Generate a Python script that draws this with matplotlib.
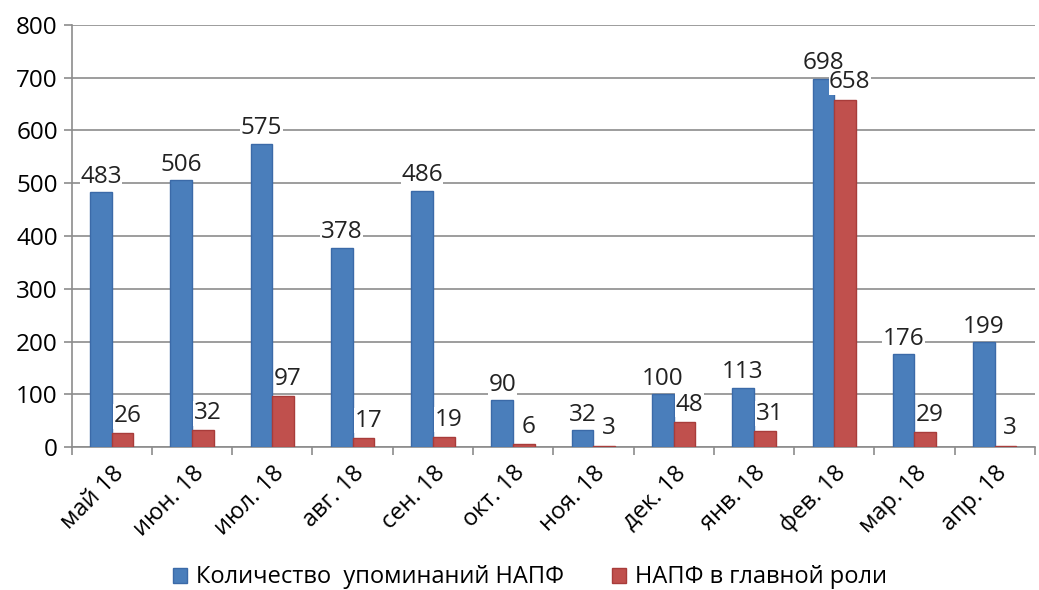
import matplotlib.pyplot as plt
import numpy as np

months = ["май 18", "июн. 18", "июл. 18", "авг. 18", "сен. 18", "окт. 18",
          "ноя. 18", "дек. 18", "янв. 18", "фев. 18", "мар. 18", "апр. 18"]
mentions = [483, 506, 575, 378, 486, 90, 32, 100, 113, 698, 176, 199]
main_role = [26, 32, 97, 17, 19, 6, 3, 48, 31, 658, 29, 3]

plt.rcParams['font.family'] = ['Open Sans', 'DejaVu Sans']

fig = plt.figure(figsize=(10.39, 5.9), dpi=100)
ax = fig.add_axes([0.069, 0.242, 0.927, 0.716])

x = np.arange(len(months))
w = 0.27
blue = "#4a7ebb"
red = "#c0504d"
b1 = ax.bar(x - w / 2, mentions, w, color=blue, edgecolor="#3b6aa8", linewidth=1,
            label="Количество  упоминаний НАПФ", zorder=3)
b2 = ax.bar(x + w / 2, main_role, w, color=red, edgecolor="#a83c3a", linewidth=1,
            label="НАПФ в главной роли", zorder=3)

for xi, v in zip(x, mentions):
    ax.text(xi - w / 2, v + 6, str(v), ha="center", va="bottom", fontsize=17.5,
            color="#222222", zorder=4,
            bbox=dict(facecolor="white", edgecolor="none", pad=0.3))
for xi, v in zip(x, main_role):
    ax.text(xi + w / 2 + 0.06, v + 10, str(v), ha="center", va="bottom", fontsize=17.5,
            color="#222222", zorder=4,
            bbox=dict(facecolor="white", edgecolor="none", pad=0.3))

ax.set_xlim(-0.5, len(months) - 0.5)
ax.set_ylim(0, 800)
ax.set_yticks(range(0, 801, 100))
ax.yaxis.grid(True, color="#8c8c8c", linewidth=1.2, zorder=0)
ax.set_axisbelow(True)

ax.set_xticks(x)
ax.set_xticklabels(months, rotation=45, ha="right", rotation_mode="anchor", fontsize=17)
ax.set_xticks(np.arange(-0.5, len(months)), minor=True)
ax.tick_params(axis="x", which="major", length=0, pad=10)
ax.tick_params(axis="x", which="minor", length=6, width=1.2, color="#8c8c8c")
ax.tick_params(axis="y", length=6, width=1.2, color="#8c8c8c", labelsize=17.5, pad=4)

for s in ["top", "right"]:
    ax.spines[s].set_visible(False)
for s in ["left", "bottom"]:
    ax.spines[s].set_color("#8c8c8c")
    ax.spines[s].set_linewidth(1.2)

fig.legend(handles=[b1, b2], loc="lower center", bbox_to_anchor=(0.51, -0.035), ncol=2,
           frameon=False, fontsize=17, handlelength=0.6, handleheight=0.6,
           handletextpad=0.4, columnspacing=2.0)

fig.savefig("out.png", dpi=100)
